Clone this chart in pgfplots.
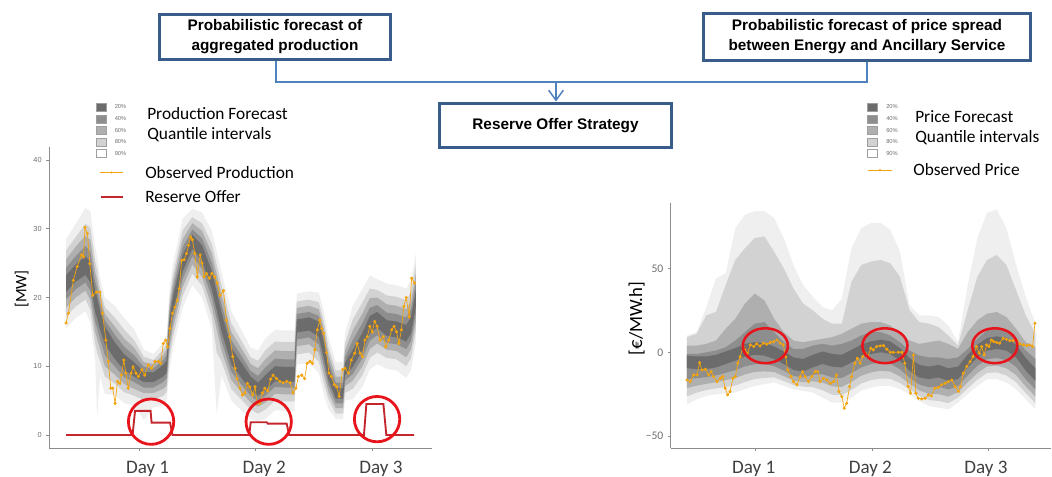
\documentclass[border=0pt]{standalone}
\usepackage{fontspec}
\setmainfont{Carlito}
\newfontfamily\arialf{Liberation Sans}
\usepackage{pgfplots}
\usepackage{pgfplotstable}
\pgfplotsset{compat=1.18}
\usepgfplotslibrary{fillbetween}
\usetikzlibrary{arrows.meta}

\definecolor{q20}{HTML}{6C6C6C}
\definecolor{q40}{HTML}{8E8E8E}
\definecolor{q60}{HTML}{AFAFAF}
\definecolor{q80}{HTML}{D2D2D2}
\definecolor{q90}{HTML}{EFEFEF}
\definecolor{obsorange}{HTML}{F4A40C}
\definecolor{offerred}{HTML}{C4262E}
\definecolor{circred}{HTML}{E8141B}
\definecolor{boxblue}{HTML}{385D8A}
\definecolor{lineblue}{HTML}{4F81BD}
\definecolor{axgray}{HTML}{8C8C8C}
\definecolor{tickgray}{HTML}{6E6E6E}
\definecolor{daygray}{HTML}{404040}

% production forecast quantile bands [MW]
\pgfplotstableread{
t l90 l80 l60 l40 l20 u20 u40 u60 u80 u90
0 15.5 17.2 18.5 19.7 20.8 23.2 24.3 25.5 26.8 28.5
2 17.0 18.7 20.0 21.2 22.3 24.8 26.0 27.4 28.8 30.7
4 18.0 19.7 21.0 22.2 23.3 26.0 27.5 29.0 30.7 33.0
5 16.4 18.2 19.6 21.0 22.2 25.2 26.7 28.4 30.2 32.6
6 11.0 13.3 15.0 16.5 17.9 21.0 22.3 23.7 25.3 27.3
6.4 2.5 12.0 14.0 15.6 17.0 20.0 21.3 22.6 24.0 26.0
7 8.5 10.8 12.5 14.0 15.4 18.1 19.1 20.2 21.3 22.9
8 6.0 8.5 10.0 11.6 13.2 15.8 16.7 17.6 18.6 20.0
10 5.8 7.5 8.8 10.0 11.1 13.5 14.6 15.8 17.1 18.8
12 4.6 6.2 7.4 8.4 9.4 11.7 12.8 14.0 15.3 17.0
14 4.3 5.7 6.7 7.7 8.5 10.6 11.6 12.7 13.8 15.4
16 2.2 5.1 6.1 6.9 7.7 9.2 9.9 10.6 11.4 12.4
18 4.0 5.1 6.1 6.9 7.7 9.1 9.7 10.3 10.9 11.8
20 4.3 5.7 6.7 7.7 8.5 10.2 10.9 11.6 12.4 13.4
20.7 4.8 6.2 7.2 8.2 9.0 10.8 11.6 12.5 13.4 14.6
21.3 9.5 11.2 12.5 13.7 14.8 17.0 17.8 18.8 19.8 21.2
22 12.5 14.2 15.5 16.7 17.8 20.1 21.1 22.2 23.3 24.9
24 18.5 20.2 21.5 22.7 23.8 26.2 27.3 28.5 29.8 31.5
26 21.8 23.5 24.8 26.0 27.1 29.1 29.9 30.8 31.7 32.9
28 20.0 21.7 23.0 24.2 25.3 27.6 28.6 29.7 30.8 32.4
30 15.4 17.2 18.6 20.0 21.2 23.8 25.0 26.4 27.8 29.7
31 3.0 12.0 15.3 16.9 18.2 20.8 22.0 23.4 24.8 26.7
32 8.7 10.7 12.3 13.7 15.1 17.8 19.0 20.4 21.8 23.7
34 5.0 6.7 8.0 9.2 10.3 12.7 13.8 15.0 16.3 18.0
36 3.6 5.2 6.3 7.4 8.4 10.6 11.6 12.7 13.8 15.4
38 2.3 3.7 4.7 5.7 6.5 8.5 9.3 10.3 11.3 12.7
39.5 2.0 3.1 4.1 4.9 5.7 7.6 8.6 9.7 10.8 12.3
41 2.3 3.7 4.7 5.7 6.5 8.7 9.8 11.0 12.3 14.0
43 3.6 5.0 6.0 7.0 7.8 10.0 11.1 12.3 13.6 15.3
45 3.5 4.9 5.9 6.9 7.7 9.9 11.0 12.2 13.5 15.2
47 3.5 4.9 5.9 6.9 7.7 9.9 11.0 12.2 13.5 15.2
47.5 10.2 11.7 12.9 13.9 14.9 16.8 17.6 18.5 19.4 20.6
50 10.5 12.0 13.2 14.2 15.2 17.1 17.9 18.8 19.7 20.9
52 9.0 10.7 12.0 13.2 14.3 16.5 17.3 18.3 19.3 20.7
53 6.0 7.7 9.0 10.2 11.3 13.7 14.6 15.6 16.7 18.2
54 3.8 5.2 6.2 7.2 8.0 10.0 10.8 11.8 12.8 14.2
55.5 2.3 3.1 3.9 4.6 5.3 6.8 7.6 8.5 9.4 10.6
57 2.3 3.1 3.9 4.6 5.3 6.8 7.6 8.5 9.4 10.6
57.4 5.0 6.1 7.1 7.9 8.7 10.5 11.3 12.3 13.3 14.7
59 5.2 6.7 7.9 8.9 9.9 12.4 13.8 15.2 16.8 18.8
61 7.0 8.7 10.0 11.2 12.3 14.9 16.3 17.7 19.3 21.3
62.5 9.5 11.2 12.5 13.7 14.8 17.3 18.5 19.9 21.3 23.2
64 10.3 12.0 13.3 14.5 15.6 17.9 18.9 20.0 21.1 22.7
66 9.6 11.2 12.4 13.4 14.4 16.7 17.8 19.0 20.3 22.0
68 9.4 11.0 12.2 13.2 14.2 16.5 17.6 18.8 20.1 21.8
70 8.3 10.0 11.3 12.5 13.6 16.0 17.1 18.3 19.6 21.3
71 9.5 11.2 12.5 13.7 14.8 17.2 18.3 19.5 20.8 22.5
72 13.5 15.2 16.5 17.7 18.8 21.2 22.3 23.5 24.8 26.5
}\prodbands

% observed production [MW]
\pgfplotstableread{
t v
0 16.3
0.5 17.7
1.5 22.5
2.3 24.5
3.2 26.2
3.6 25.9
3.9 30.2
4.4 29.3
4.9 24.9
5.5 20.3
6.3 20.8
7.0 20.8
7.5 17.7
8.2 13.8
8.7 10.7
9.2 6.8
9.6 6.8
10.1 4.6
10.6 7.8
11.1 7.5
11.4 8.7
11.9 10.9
12.3 9.0
12.8 6.8
13.4 9.0
13.8 9.9
14.4 9.0
14.9 8.5
15.6 9.5
16.2 8.7
16.9 10.2
17.6 9.7
18.3 10.7
19.0 10.7
19.5 10.4
20.0 13.3
20.5 13.8
20.9 12.8
21.4 15.5
21.9 17.7
22.4 18.6
22.9 19.6
23.3 21.3
23.8 25.4
24.3 25.5
24.8 26.4
25.2 27.6
25.6 28.8
26.0 28.4
26.5 26.4
27.0 23.0
27.6 26.2
28.0 25.0
28.4 23.0
28.9 23.5
29.5 22.8
30.0 23.5
30.6 23.0
31.1 22.1
31.7 20.3
32.4 21.0
33.0 16.7
33.7 14.3
34.3 11.4
34.8 9.7
35.2 8.2
35.8 6.8
36.3 5.8
36.8 6.1
37.3 7.5
37.8 7.0
38.4 5.8
38.9 7.0
39.3 4.6
39.9 4.6
40.4 6.1
40.9 6.8
41.5 6.4
42.1 8.1
42.6 8.7
43.3 8.2
44.0 7.8
44.7 7.6
45.4 7.8
46.1 7.6
46.7 6.1
47.3 6.8
47.8 8.5
48.5 8.7
49.1 8.2
49.6 10.4
50.2 10.7
50.7 10.4
51.2 12.4
51.7 15.3
52.2 16.7
52.6 15.5
53.0 14.8
53.6 12.0
54.1 9.0
54.6 8.5
55.2 7.3
55.7 7.0
56.2 5.6
56.9 9.5
57.4 9.7
58.1 9.0
58.7 10.9
59.4 11.9
59.9 13.3
60.5 11.9
61.0 11.4
61.5 13.8
62.0 14.3
62.5 15.8
63.0 15.0
63.5 16.5
64.0 15.8
64.6 13.8
65.3 14.3
65.8 12.8
66.4 13.8
67.0 15.3
67.5 15.8
68.0 15.0
68.5 13.3
69.0 15.3
69.5 18.7
70.0 20.0
70.6 17.2
71.1 22.8
71.7 22.1
}\prodobs

% reserve offer [MW]
\pgfplotstableread{
t v
0 0
13.7 0
14.2 3.5
17.4 3.5
17.6 1.8
21.4 1.8
21.9 0
37.7 0
38.0 1.85
41.3 1.85
41.5 1.65
45.4 1.65
45.9 0
61.3 0
61.8 4.5
65.3 4.5
65.9 0
71.6 0
}\offer

% price spread forecast quantile bands [EUR/MWh]
\pgfplotstableread{
t l90 l80 l60 l40 l20 u20 u40 u60 u80 u90
0 -31 -26.3 -21.3 -16 -9.5 -2 -1 4 9 10
2 -28 -24 -19.9 -15.4 -10 -2.5 -1 4 11 12
4 -26 -22.5 -18.8 -14.8 -10 -2.5 0 5 22 27
6 -25 -21.5 -17.8 -13.8 -9 -1.5 1 7 24 44
8 -24.5 -20.6 -16.6 -12.2 -7 0.5 3 14 40 47
10 -24 -19.8 -15.4 -10.7 -5 2.5 7 20 55 74
12 -22 -17.7 -13.2 -8.4 -2.5 5 12 29 62 82
14 -20 -15.9 -11.7 -7.1 -1.5 6 17 35 68 84
16 -19 -15.3 -11.4 -7.1 -2 5.5 18 31 69 84
18 -18 -14.9 -11.7 -8.2 -4 3.5 12 20 60 80
20 -20 -17.1 -14.2 -10.9 -7 0.5 6 12 50 68
22 -22 -19.5 -16.8 -14 -10.5 -3 2 7 38 52
24 -23 -20.5 -17.8 -15 -11.5 -4 2 6 29 40
26 -24 -20.7 -17.3 -13.5 -9 -1.5 4 7 25 33
28 -27 -22.6 -18 -13 -7 0.5 5 8 20 27
30 -30 -25.3 -20.3 -15 -8.5 -1 4 9 17 25
32 -30 -25.4 -20.6 -15.3 -9 -1.5 5 11 17 32
34 -27 -22.4 -17.6 -12.3 -6 1.5 7 14 42 62
36 -23 -18.6 -14 -9 -3 4.5 10 17 52 74
38 -21 -16.6 -12 -7 -1 6.5 12 18 54 77
40 -20 -15.6 -11 -6 0 7.5 12 18 55 77
42 -20 -15.8 -11.5 -6.7 -1 6.5 10 16 53 73
44 -22 -18.3 -14.4 -10.1 -5 2.5 6 11 45 60
46 -25 -21.9 -18.7 -15.2 -11 -3.5 1 7 25 28
48 -29 -25.9 -22.7 -19.2 -15 -7.5 -2 5 18 22
50 -32 -28.5 -24.8 -20.8 -16 -8.5 -3 6 17 22
52 -33 -29 -24.9 -20.4 -15 -7.5 -3 7 15 21
54 -34 -30.3 -26.4 -22.1 -17 -9.5 -4 5 10 16
56 -30 -26.9 -23.7 -20.2 -16 -8.5 -3 2 4 6
58 -25 -21.5 -17.8 -13.8 -9 -1.5 2 12 25 40
60 -20 -16.3 -12.4 -8.1 -3 4.5 8 19 45 68
62 -16 -12.3 -8.4 -4.1 1 8.5 13 23 55 83
64 -16 -12 -7.9 -3.4 2 9.5 15 24 58 85
66 -18 -13.8 -9.5 -4.7 1 8.5 13 21 52 74
68 -22 -17.8 -13.5 -8.7 -3 4.5 8 14 37 52
70 -28 -24.3 -20.4 -16.1 -11 -3.5 1 6 22 33
72 -34 -30.3 -26.4 -22.1 -17 -9.5 -4 3 11 17
}\pricebands

% observed price spread
\pgfplotstableread{
t v
0 -16.5
0.7 -17.5
1.4 -13.5
2.1 -13.5
2.6 -6.2
3.1 -10.5
3.8 -10.1
4.5 -13.5
5.0 -11.5
5.5 -14.5
6.2 -17.5
6.9 -15.5
7.4 -14.5
7.9 -21.4
8.4 -25.4
8.9 -23.4
9.5 -15.5
10.0 -14.5
10.5 -6.5
11.0 -2.6
11.6 3.4
12.0 1.4
12.5 -0.6
13.1 4.4
13.8 3.4
14.4 5.0
15.1 3.8
15.8 5.4
16.5 4.8
17.2 5.8
17.9 6.3
18.6 7.3
19.3 5.4
19.9 4.4
20.4 -2.6
20.8 -10.5
21.5 -14.5
22.0 -17.5
22.7 -19.4
23.4 -14.5
23.9 -11.5
24.4 -14.5
25.1 -17.5
25.8 -14.5
26.5 -11.5
27.0 -11.5
27.5 -17.5
28.2 -15.5
28.9 -16.5
29.6 -18.5
30.3 -17.5
30.9 -13.5
31.4 -23.4
32.0 -26.4
32.5 -33.3
33.0 -30.4
33.6 -20.4
34.0 -14.5
34.7 -6.5
35.2 -3.6
35.8 -6.5
36.3 -2.6
36.9 -0.6
37.4 -2.2
38.0 2.4
38.5 1.4
39.2 3.4
39.9 3.8
40.6 4.0
41.3 1.8
42.0 0
42.6 0
43.7 0
44.4 0
45.0 -6.5
45.7 -20.4
46.2 -24.4
46.8 -1.6
47.3 -24.4
47.8 -27.4
48.5 -27.8
49.2 -27.4
49.9 -25.4
50.5 -26.0
51.2 -21.4
51.9 -21.0
52.6 -19.4
53.3 -18.5
54.0 -17.5
54.7 -16.5
55.4 -20.4
56.1 -23.4
56.5 -20.4
57.1 -12.5
57.8 -8.5
58.5 -5.6
59.1 -2.6
59.8 3.4
60.4 -0.6
60.9 3.4
61.4 -1.6
61.9 4.4
62.4 3.4
62.9 7.3
63.4 6.3
64.0 5.8
64.6 5.4
65.3 8.3
66.0 7.7
66.7 6.9
67.4 6.9
68.1 7.3
68.8 5.0
69.5 4.4
70.2 4.0
70.8 4.4
71.4 3.4
71.9 17.3
}\priceobs

\newcommand{\fanbands}[1]{%
  \addplot[draw=none, name path=u90] table[x=t,y=u90]{#1};
  \addplot[draw=none, name path=l90] table[x=t,y=l90]{#1};
  \addplot[fill=q90, draw=none] fill between[of=u90 and l90];
  \addplot[draw=none, name path=u80] table[x=t,y=u80]{#1};
  \addplot[draw=none, name path=l80] table[x=t,y=l80]{#1};
  \addplot[fill=q80, draw=none] fill between[of=u80 and l80];
  \addplot[draw=none, name path=u60] table[x=t,y=u60]{#1};
  \addplot[draw=none, name path=l60] table[x=t,y=l60]{#1};
  \addplot[fill=q60, draw=none] fill between[of=u60 and l60];
  \addplot[draw=none, name path=u40] table[x=t,y=u40]{#1};
  \addplot[draw=none, name path=l40] table[x=t,y=l40]{#1};
  \addplot[fill=q40, draw=none] fill between[of=u40 and l40];
  \addplot[draw=none, name path=u20] table[x=t,y=u20]{#1};
  \addplot[draw=none, name path=l20] table[x=t,y=l20]{#1};
  \addplot[fill=q20, draw=none] fill between[of=u20 and l20];
}

\pgfplotsset{fanaxis/.style={
  scale only axis, clip=false,
  axis x line=bottom, axis y line=left,
  axis line style={-, draw=axgray, line width=0.6pt},
  tick align=outside, major tick length=2pt,
  tick style={draw=axgray, line width=0.5pt},
  xticklabel style={font=\fontsize{14.3}{15}\selectfont, text=daygray, anchor=base, yshift=-17pt},
  xticklabels={Day 1,Day 2,Day 3},
}}

\begin{document}
\begin{tikzpicture}

% production panel
\begin{axis}[fanaxis, at={(36.75pt,21.75pt)}, anchor=south west,
  width=287.25pt, height=225.75pt,
  xmin=-3.5, xmax=75.3, ymin=-1.9, ymax=41.9,
  xtick={15,39,63},
  xticklabel style={xshift=6.5pt},
  ytick={0,10,20,30,40}, yticklabels={0,10,20,30,40},
  yticklabel style={font=\arialf\fontsize{5.5}{6}\selectfont, text=tickgray}]
  \fanbands{\prodbands}
  \addplot[obsorange, line width=0.5pt, mark=*, mark size=0.9pt] table[x=t,y=v]{\prodobs};
  \addplot[offerred, line width=1.4pt] table[x=t,y=v]{\offer};
  \addplot[only marks, mark=o, mark size=17pt, mark options={draw=circred, line width=2.1pt}]
    coordinates {(17.5,1.93) (41.7,1.93) (64.0,2.3)};
\end{axis}

% price panel
\begin{axis}[fanaxis, at={(503pt,21.75pt)}, anchor=south west,
  width=285.2pt, height=183.75pt,
  xmin=-3.36, xmax=75.2, ymin=-57, ymax=88.9,
  xtick={14.2,38.3,62.2},
  xticklabel style={xshift=-1.5pt},
  ytick={-50,0,50}, yticklabels={−50,0,50},
  yticklabel style={font=\fontsize{8.7}{9}\selectfont, text=tickgray}]
  \fanbands{\pricebands}
  \addplot[obsorange, line width=0.5pt, mark=*, mark size=0.9pt] table[x=t,y=v]{\priceobs};
  \addplot[only marks, mark=o, mark size=16.9pt, mark options={draw=circred, line width=1.9pt, yscale=0.775}]
    coordinates {(16.2,3.9) (40.9,3.9) (63.6,3.9)};
\end{axis}

% diagram and legends, in pixel units from the top left
\begin{scope}[x=0.75pt, y=-0.75pt, shift={(0pt,357.75pt)}]
  \tikzset{box/.style={draw=boxblue, line width=2.2pt, fill=white},
           conn/.style={draw=lineblue, line width=1.1pt},
           boxtext/.style={align=center, font=\arialf\bfseries\fontsize{11.5}{14.5}\selectfont},
           leg/.style={anchor=west, font=\fontsize{13}{14}\selectfont, inner sep=0pt},
           pct/.style={anchor=west, font=\arialf\fontsize{4.3}{5}\selectfont, text=tickgray, inner sep=0pt}}
  % connectors
  \draw[conn] (276,61) -- (276,82) -- (867,82) -- (867,62);
  \draw[conn, -{Straight Barb[length=7.5pt,width=11pt]}] (556,82) -- (556,101.5);
  % boxes
  \draw[box] (159.5,14.5) rectangle (390.5,59.5);
  \node[boxtext] at (275,36.5) {Probabilistic forecast of\\aggregated production};
  \draw[box] (703.5,13.5) rectangle (1030.5,60.5);
  \node[boxtext] at (867,36.5) {Probabilistic forecast of price spread\\between Energy and Ancillary Service};
  \draw[box] (439.5,103.5) rectangle (671.5,147.5);
  \node[boxtext] at (555.5,125.5) {Reserve Offer Strategy};
  % axis titles
  \node[rotate=90, font=\fontsize{12}{13}\selectfont] at (21.7,289) {[MW]};
  \node[rotate=90, font=\fontsize{14}{15}\selectfont] at (636.7,318.5) {[€/MW.h]};
  % production legend
  \foreach \c/\p/\yy in {q20/20/107, q40/40/119, q60/60/130.5, q80/80/142, white/90/153.5}{
    \filldraw[fill=\c, draw=gray!75, line width=0.4pt] (96,\yy-3.8) rectangle (106,\yy+3.8);
    \node[pct] at (114.5,\yy) {\p\%};
  }
  \node[leg] at (147,114) {Production Forecast};
  \node[leg] at (147,135) {Quantile intervals};
  \draw[obsorange, line width=0.5pt] (100,172.5) -- (123,172.5);
  \fill[obsorange] (111.5,172.5) circle (1.2);
  \node[leg] at (145,173) {Observed Production};
  \draw[offerred, line width=1.6pt] (101,197) -- (123,197);
  \node[leg] at (145,197) {Reserve Offer};
  % price legend
  \foreach \c/\p/\yy in {q20/20/107, q40/40/119, q60/60/130.5, q80/80/142, white/90/153.5}{
    \filldraw[fill=\c, draw=gray!75, line width=0.4pt] (867,\yy-3.8) rectangle (877,\yy+3.8);
    \node[pct] at (886,\yy) {\p\%};
  }
  \node[leg] at (915,117) {Price Forecast};
  \node[leg] at (915,138) {Quantile intervals};
  \draw[obsorange, line width=0.5pt] (868,170) -- (892,170);
  \fill[obsorange] (880,170) circle (1.2);
  \node[leg] at (913,170) {Observed Price};
\end{scope}
\pgfresetboundingbox
\path[use as bounding box] (0,0) rectangle (789pt,357.75pt);
\end{tikzpicture}
\end{document}
